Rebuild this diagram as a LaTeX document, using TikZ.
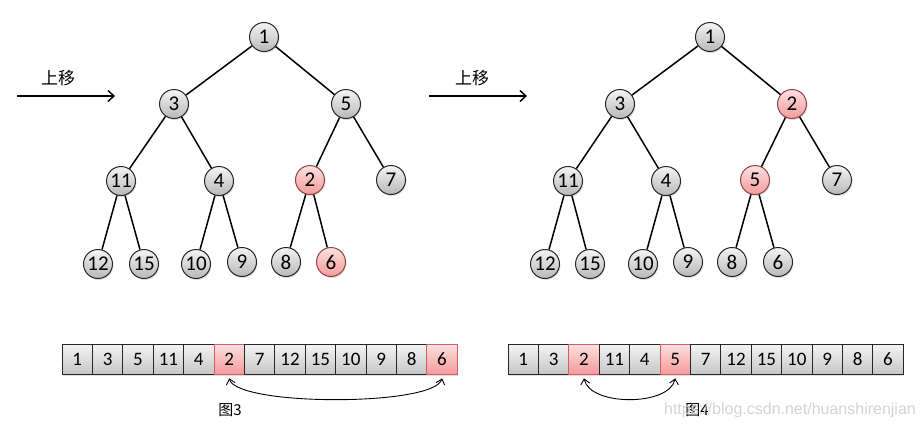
\documentclass[tikz,border=0pt]{standalone}
\usepackage{fontspec}
\setmainfont{Carlito}
\newfontfamily\cjk{Noto Sans CJK SC}
\newfontfamily\markfont{Liberation Sans}
\usepackage{xcolor}
\usepackage{tikz}
\usetikzlibrary{arrows.meta, shadows}
\definecolor{heapline}{HTML}{262626}
\definecolor{heaptop}{HTML}{F4F4F4}
\definecolor{heapbot}{HTML}{B8B8B8}
\definecolor{hottop}{HTML}{FCE0E0}
\definecolor{hotbot}{HTML}{F49A9A}
\definecolor{hotline}{HTML}{D06060}
\definecolor{markgray}{HTML}{D4D4D4}

\begin{document}
\begin{tikzpicture}[x=1pt, y=-1pt,
    heapnode/.style={circle, draw=heapline, line width=1pt, minimum size=29pt, inner sep=0pt, top color=heaptop, bottom color=heapbot, font=\fontsize{21}{21}\selectfont, drop shadow={shadow xshift=1pt, shadow yshift=-1.5pt, opacity=0.25}},
    hotnode/.style={heapnode, top color=hottop, bottom color=hotbot, draw=hotline!70!black},
    edge/.style={line width=1.5pt, color=black},
    cell/.style={rectangle, draw=heapline, line width=0.8pt, minimum width=30.4pt, minimum height=30pt, inner sep=0pt, top color=heaptop, bottom color=heapbot!80, font=\fontsize{19}{19}\selectfont, drop shadow={shadow xshift=1pt, shadow yshift=-1.5pt, opacity=0.25}},
    hotcell/.style={cell, top color=hottop, bottom color=hotbot, draw=hotline},
    moveline/.style={-{Straight Barb[length=6pt, width=11pt]}, line width=1.4pt},
    swaparrow/.style={{Straight Barb[length=5pt, width=9pt]}-{Straight Barb[length=5pt, width=9pt]}, line width=0.9pt},
    caplabel/.style={font=\cjk\fontsize{15}{15}\selectfont}
]
\useasboundingbox (0,0) rectangle (924,434);

% Step 3: tree before moving up
\node[heapnode] (l1) at (264,37) {1};
\node[heapnode] (l3) at (174,104) {3};
\node[heapnode] (l5) at (346,104) {5};
\node[heapnode] (l11) at (121,181) {11};
\node[heapnode] (l4) at (219,181) {4};
\node[hotnode] (l2) at (310,180) {2};
\node[heapnode] (l7) at (391,180) {7};
\node[heapnode] (l12) at (98,264) {12};
\node[heapnode] (l15) at (144,264) {15};
\node[heapnode] (l10) at (196,264) {10};
\node[heapnode] (l9) at (242,262) {9};
\node[heapnode] (l8) at (286,262) {8};
\node[hotnode] (l6) at (331,262) {6};
\draw[edge] (l1) -- (l3);
\draw[edge] (l1) -- (l5);
\draw[edge] (l3) -- (l11);
\draw[edge] (l3) -- (l4);
\draw[edge] (l5) -- (l2);
\draw[edge] (l5) -- (l7);
\draw[edge] (l11) -- (l12);
\draw[edge] (l11) -- (l15);
\draw[edge] (l4) -- (l10);
\draw[edge] (l4) -- (l9);
\draw[edge] (l2) -- (l8);
\draw[edge] (l2) -- (l6);

% Step 4: tree after moving up
\node[heapnode] (r1) at (710,37) {1};
\node[heapnode] (r3) at (620,104) {3};
\node[hotnode] (r2) at (792,104) {2};
\node[heapnode] (r11) at (568,181) {11};
\node[heapnode] (r4) at (666,181) {4};
\node[hotnode] (r5) at (755,180) {5};
\node[heapnode] (r7) at (837,180) {7};
\node[heapnode] (r12) at (545,264) {12};
\node[heapnode] (r15) at (590,264) {15};
\node[heapnode] (r10) at (643,264) {10};
\node[heapnode] (r9) at (688,262) {9};
\node[heapnode] (r8) at (732,262) {8};
\node[heapnode] (r6) at (778,262) {6};
\draw[edge] (r1) -- (r3);
\draw[edge] (r1) -- (r2);
\draw[edge] (r3) -- (r11);
\draw[edge] (r3) -- (r4);
\draw[edge] (r2) -- (r5);
\draw[edge] (r2) -- (r7);
\draw[edge] (r11) -- (r12);
\draw[edge] (r11) -- (r15);
\draw[edge] (r4) -- (r10);
\draw[edge] (r4) -- (r9);
\draw[edge] (r5) -- (r8);
\draw[edge] (r5) -- (r6);

% Move-up arrows
\coordinate (m1s) at (17,96);
\coordinate (m1e) at (115,96);
\draw[moveline] (m1s) -- (m1e);
\node[caplabel, font=\cjk\fontsize{17}{17}\selectfont] (m1) at (58,78) {上移};
\coordinate (m2s) at (429,96);
\coordinate (m2e) at (527,96);
\draw[moveline] (m2s) -- (m2e);
\node[caplabel, font=\cjk\fontsize{17}{17}\selectfont] (m2) at (472,78) {上移};

% Array for step 3
\foreach \v/\s [count=\i] in {1/cell,3/cell,5/cell,11/cell,4/cell,2/hotcell,7/cell,12/cell,15/cell,10/cell,9/cell,8/cell,6/hotcell}
  \node[\s] (a\i) at (46.8+30.4*\i, 359) {\v};
\draw[swaparrow] ([yshift=-4pt]a6.south) .. controls +(8,28) and +(-8,28) .. ([yshift=-4pt]a13.south);
\node[caplabel] (f3) at (230,410) {图3};

% Array for step 4
\foreach \v/\s [count=\i] in {1/cell,3/cell,2/hotcell,11/cell,4/cell,5/hotcell,7/cell,12/cell,15/cell,10/cell,9/cell,8/cell,6/cell}
  \node[\s] (b\i) at (492.8+30.4*\i, 359) {\v};
\draw[swaparrow] ([yshift=-4pt]b3.south) .. controls +(6,28) and +(-6,28) .. ([yshift=-4pt]b6.south);
\node[caplabel] (f4) at (697,410) {图4};

% Watermark
\node[font=\markfont\fontsize{16}{16}\selectfont, color=markgray] (wm) at (790,410) {https://blog.csdn.net/huanshirenjian};
\end{tikzpicture}
\end{document}
